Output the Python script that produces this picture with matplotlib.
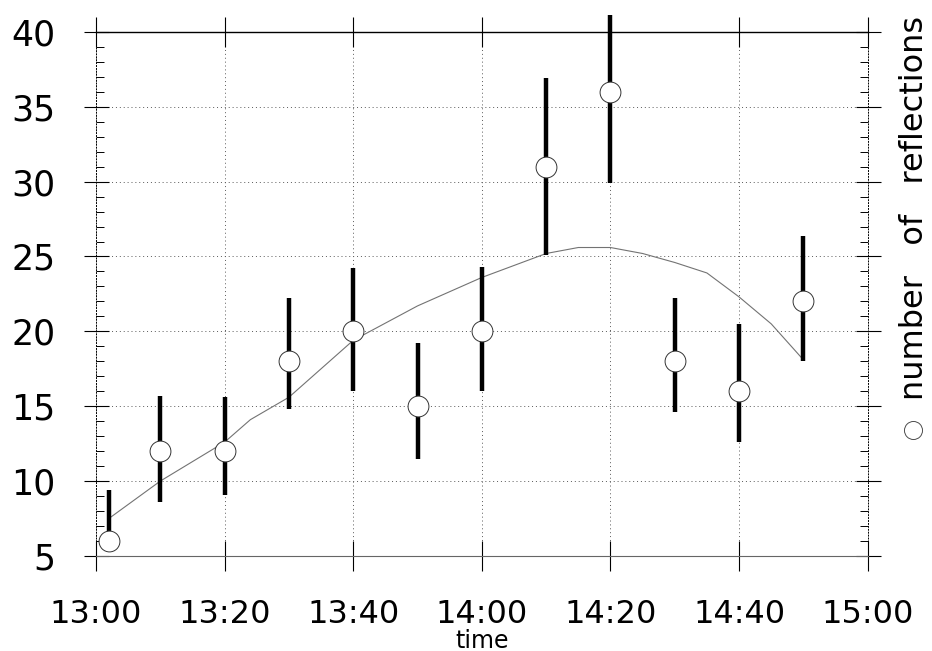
import matplotlib
matplotlib.use("Agg")
import matplotlib.pyplot as plt
from matplotlib.ticker import MultipleLocator, FuncFormatter

# observed counts with error bar ends, times as hh:mm
times = ["13:02", "13:10", "13:20", "13:30", "13:40", "13:50",
         "14:00", "14:10", "14:20", "14:30", "14:40", "14:50"]
counts = [6, 12, 12, 18, 20, 15, 20, 31, 36, 18, 16, 22]
bar_low = [6.0, 8.6, 9.1, 14.8, 16.0, 11.5, 16.0, 25.1, 29.9, 14.6, 12.6, 18.0]
bar_high = [9.4, 15.7, 15.6, 22.2, 24.2, 19.2, 24.3, 36.9, 41.1, 22.2, 20.5, 26.4]

# smooth fitted curve
fit_times = ["13:02", "13:10", "13:20", "13:24", "13:30", "13:40", "13:50",
             "14:00", "14:10", "14:15", "14:20", "14:25", "14:30", "14:35",
             "14:40", "14:45", "14:50"]
fit_values = [7.5, 10.0, 12.6, 14.1, 15.6, 19.4, 21.7, 23.6, 25.2, 25.6,
              25.6, 25.2, 24.6, 23.9, 22.3, 20.5, 18.1]

series_label = "number of reflections"


def to_minutes(t):
    h, m = t.split(":")
    return (int(h) - 13) * 60 + int(m)


def fmt_time(v, pos):
    v = int(round(v))
    return "%d:%02d" % (13 + v // 60, v % 60)


x = [to_minutes(t) for t in times]
fx = [to_minutes(t) for t in fit_times]
err = [[c - lo for c, lo in zip(counts, bar_low)],
       [hi - c for c, hi in zip(counts, bar_high)]]

fig = plt.figure(figsize=(9.32, 6.51), dpi=100)
ax = fig.add_axes([0.103, 0.146, 0.828, 0.805])

ax.plot(fx, fit_values, color="0.45", lw=0.8, zorder=2)
ax.errorbar(x, counts, yerr=err, fmt="o", ms=15, mfc="white", mec="0.2",
            mew=0.7, ecolor="black", elinewidth=3.2, capsize=0,
            zorder=3, clip_on=False)

ax.set_xlim(0, 120)
ax.set_ylim(5, 40)
ax.xaxis.set_major_locator(MultipleLocator(20))
ax.xaxis.set_major_formatter(FuncFormatter(fmt_time))
ax.yaxis.set_major_locator(MultipleLocator(5))
ax.yaxis.set_minor_locator(MultipleLocator(1))

ax.grid(True, which="major", color="0.35", lw=0.7, linestyle=(0, (1, 3)))
ax.tick_params(axis="y", which="major", direction="inout", length=18,
               width=0.8, labelsize=25, pad=20, right=True)
ax.tick_params(axis="y", which="minor", direction="in", length=6,
               width=0.7, right=True)
ax.tick_params(axis="x", which="major", direction="inout", length=22,
               width=0.8, labelsize=23, pad=20, top=True)

for side in ["left", "right"]:
    ax.spines[side].set_linestyle((0, (1, 2)))
    ax.spines[side].set_linewidth(0.7)
ax.spines["top"].set_linewidth(1.0)
ax.spines["bottom"].set_linewidth(0.8)
ax.spines["bottom"].set_color("0.4")

ax.set_xlabel("time", fontsize=17, labelpad=-1)

# rotated legend on the right, words spread out like the original
fig.text(0.981, 1 - 400 / 651, "   ".join(series_label.split()),
         rotation=90, fontsize=23, ha="center", va="bottom")
ax.plot([913 / 932], [1 - 430 / 651], "o", ms=13, mfc="white", mec="0.3",
        mew=0.7, transform=fig.transFigure, clip_on=False)

fig.savefig("out.png", dpi=100)
